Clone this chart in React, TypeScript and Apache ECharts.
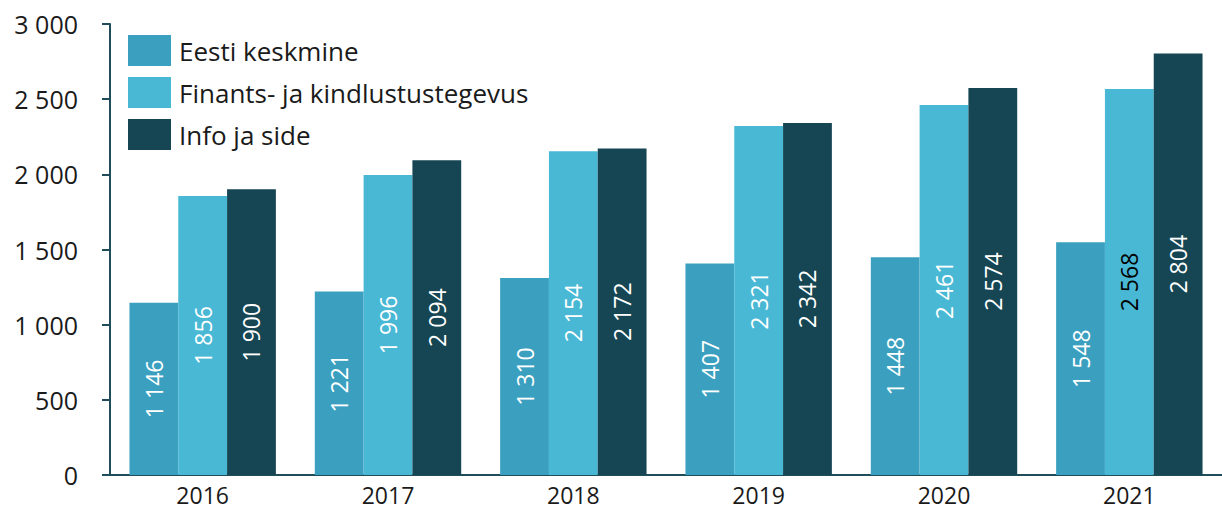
import React, { useEffect, useRef } from "react";
import * as echarts from "echarts";

const years = ["2016", "2017", "2018", "2019", "2020", "2021"];
const seriesNames = ["Eesti keskmine", "Finants- ja kindlustustegevus", "Info ja side"];
const eesti = [1146, 1221, 1310, 1407, 1448, 1548];
const finants = [1856, 1996, 2154, 2321, 2461, 2568];
const info = [1900, 2094, 2172, 2342, 2574, 2804];
const colors = ["#3ba0bf", "#48b8d5", "#164653"];
const darkLabel = [false, false, false, false, false, true];

const fmt = (v: number) => String(v).replace(/\B(?=(\d{3})+(?!\d))/g, " ");
const FONT = "'Open Sans', sans-serif";

export default function App() {
  const ref = useRef<HTMLDivElement>(null);
  useEffect(() => {
    const chart = echarts.init(ref.current!, null, { renderer: "svg" });
    const mk = (name: string, data: number[], color: string, dark?: boolean[]) => ({
      name,
      type: "bar",
      barGap: "0%",
      barCategoryGap: "21%",
      itemStyle: { color },
      data: data.map((v, i) => ({
        value: v,
        label: dark && dark[i] ? { color: "#000" } : undefined,
      })),
      label: {
        show: true,
        position: "inside",
        rotate: 90,
        color: "#fff",
        fontSize: 23,
        fontFamily: FONT,
        formatter: (p: any) => fmt(p.value),
      },
    });
    chart.setOption({
      animation: false,
      textStyle: { fontFamily: FONT },
      grid: { left: 110, right: -6, top: 24, bottom: 35 },
      legend: {
        orient: "vertical",
        left: 123,
        top: 30,
        itemWidth: 43,
        itemHeight: 31,
        itemGap: 11,
        icon: "rect",
        data: seriesNames,
        textStyle: { fontSize: 26, color: "#1a1a1a", fontFamily: FONT, padding: [0, 0, 0, 3] },
      },
      xAxis: {
        type: "category",
        data: years,
        axisLine: { lineStyle: { color: "#1f4e5a", width: 2 } },
        axisTick: { show: false },
        axisLabel: { fontSize: 23, lineHeight: 23, color: "#1a1a1a", margin: 8, fontFamily: FONT },
      },
      yAxis: {
        type: "value",
        min: 0,
        max: 3000,
        interval: 500,
        axisLine: { show: true, lineStyle: { color: "#1f4e5a", width: 2 } },
        axisTick: { show: true, length: 8, lineStyle: { color: "#1f4e5a", width: 2 } },
        splitLine: { show: false },
        axisLabel: {
          fontSize: 25,
          color: "#1a1a1a",
          margin: 32,
          fontFamily: FONT,
          formatter: (v: number) => fmt(v),
        },
      },
      series: [
        mk(seriesNames[0], eesti, colors[0]),
        mk(seriesNames[1], finants, colors[1], darkLabel),
        mk(seriesNames[2], info, colors[2]),
      ],
    });
    return () => chart.dispose();
  }, []);
  return (
    <div
      ref={ref}
      style={{ position: "fixed", left: 0, top: 0, width: 1222, height: 510, background: "#fff" }}
    />
  );
}
